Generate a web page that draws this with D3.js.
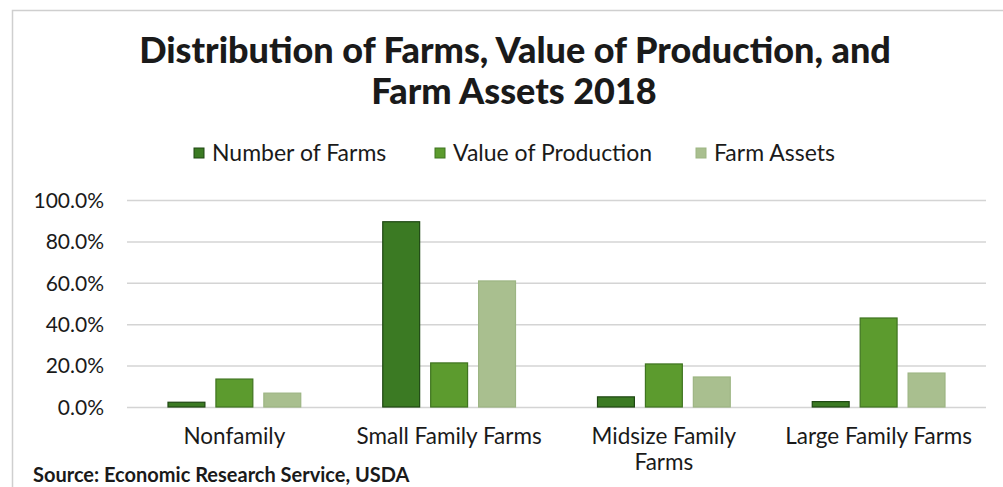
<!DOCTYPE html>
<html>
<head>
<meta charset="utf-8">
<script src="https://cdn.jsdelivr.net/npm/d3@7"></script>
<style>
  html, body { margin: 0; padding: 0; background: #fff; }
  svg { display: block; }
  text { font-family: Lato, "Open Sans", sans-serif; fill: #1a1a1a; }
</style>
</head>
<body>
<script>
// Farm typology shares, 2018 (percent)
const categories = ["Nonfamily", "Small Family Farms", "Midsize Family Farms", "Large Family Farms"];
const seriesNames = ["Number of Farms", "Value of Production", "Farm Assets"];
const numberOfFarms = [2.3, 89.5, 4.9, 2.6];
const valueOfProduction = [13.5, 21.3, 20.8, 43.0];
const farmAssets = [6.7, 60.9, 14.5, 16.4];
const yTicks = [0, 20, 40, 60, 80, 100];

const seriesValues = [numberOfFarms, valueOfProduction, farmAssets];
const fills = ["#3b7a23", "#5c9b2e", "#a9bf8f"];
const strokes = ["#1e4712", "#3f7420", "#9db583"];

const W = 1003, H = 487;
const svg = d3.select("body").append("svg").attr("width", W).attr("height", H);

// outer frame
svg.append("path")
  .attr("d", `M12.5,${H} V10.5 H${W}`)
  .attr("fill", "none").attr("stroke", "#cfcfcf").attr("stroke-width", 1.5);

const plot = { left: 127, right: 986, top: 200, bottom: 407 };

const x = d3.scaleBand().domain(categories).range([plot.left, plot.right]);
const xs = d3.scaleBand().domain(seriesNames)
  .range([41, x.bandwidth() - 41]).paddingInner(0.23);
const y = d3.scaleLinear().domain([0, 100]).range([plot.bottom, plot.top]);

// title
const title = svg.append("g").attr("text-anchor", "middle").style("font-weight", 900);
title.append("text").attr("x", 515).attr("y", 63).style("font-size", "36px")
  .text("Distribution of Farms, Value of Production, and");
title.append("text").attr("x", 514).attr("y", 104).style("font-size", "36px")
  .text("Farm Assets 2018");

// legend
const legendItems = [
  { name: seriesNames[0], x: 212 },
  { name: seriesNames[1], x: 453 },
  { name: seriesNames[2], x: 714 }
];
const lg = svg.append("g");
legendItems.forEach((d, i) => {
  const g = lg.append("g").attr("transform", `translate(${d.x},0)`);
  g.append("rect").attr("x", -18).attr("y", 148).attr("width", 10).attr("height", 10)
    .attr("fill", fills[i]).attr("stroke", strokes[i]);
  g.append("text").attr("x", 0).attr("y", 161).style("font-size", "23px").text(d.name);
});

// gridlines + y axis labels
const yAxis = d3.axisLeft(y).tickValues(yTicks)
  .tickSize(-(plot.right - plot.left))
  .tickFormat(d => d.toFixed(1) + "%");
const ya = svg.append("g").attr("transform", `translate(${plot.left},0)`).call(yAxis);
ya.select(".domain").remove();
ya.selectAll(".tick line").attr("stroke", "#d4d4d4").attr("stroke-width", 1.5);
ya.selectAll(".tick text").attr("x", -23).attr("dy", "0.35em")
  .style("font-size", "21px").attr("fill", "#1a1a1a");

// bars
const groups = svg.append("g").selectAll("g")
  .data(categories)
  .join("g")
  .attr("transform", d => `translate(${x(d)},0)`);

groups.selectAll("rect")
  .data((c, ci) => seriesNames.map((s, si) => ({ s, si, v: seriesValues[si][ci] })))
  .join("rect")
  .attr("x", d => xs(d.s))
  .attr("width", xs.bandwidth())
  .attr("y", d => y(d.v))
  .attr("height", d => y(0) - y(d.v))
  .attr("fill", d => fills[d.si])
  .attr("stroke", d => strokes[d.si])
  .attr("stroke-width", 1.2);

// category labels, wrapped to fit the band
const xa = svg.append("g").attr("text-anchor", "middle");
categories.forEach(c => {
  const cx = x(c) + x.bandwidth() / 2;
  const t = xa.append("text").attr("x", cx).attr("y", 444).style("font-size", "22.5px");
  const words = c.split(" ");
  let line = [];
  let tspan = t.append("tspan").attr("x", cx).attr("dy", 0);
  words.forEach(w => {
    line.push(w);
    tspan.text(line.join(" "));
    if (tspan.node().getComputedTextLength() > 200 && line.length > 1) {
      line.pop();
      tspan.text(line.join(" "));
      line = [w];
      tspan = t.append("tspan").attr("x", cx).attr("dy", "1.15em").text(w);
    }
  });
});

// source note
svg.append("text").attr("x", 33).attr("y", 482)
  .style("font-size", "20px").style("font-weight", 700)
  .text("Source: Economic Research Service, USDA");
</script>
</body>
</html>
